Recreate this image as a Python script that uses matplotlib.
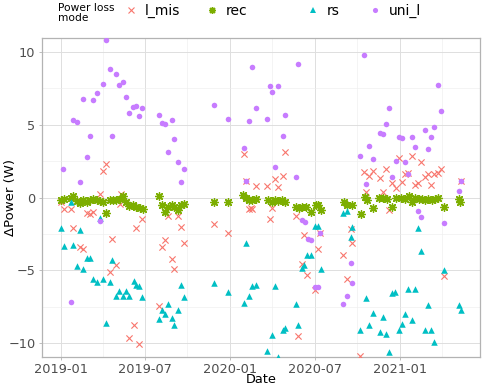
import matplotlib
matplotlib.use("Agg")
import matplotlib.pyplot as plt
import matplotlib.dates as mdates
from matplotlib.lines import Line2D
import pandas as pd

# ---- data ----
lmis_dates = ["2019-01-01", "2019-01-08", "2019-01-24", "2019-01-28", "2019-02-11", "2019-02-18",
              "2019-02-26", "2019-03-05", "2019-03-12", "2019-03-26", "2019-04-01", "2019-04-02",
              "2019-04-08", "2019-04-17", "2019-04-22", "2019-04-29", "2019-05-08", "2019-05-11",
              "2019-05-15", "2019-05-21", "2019-05-28", "2019-06-07", "2019-06-11", "2019-06-18",
              "2019-06-26", "2019-07-31", "2019-08-06", "2019-08-13", "2019-08-20", "2019-08-28",
              "2019-09-03", "2019-09-10", "2019-09-17", "2019-09-24", "2019-11-28", "2019-12-27",
              "2020-01-30", "2020-02-04", "2020-02-11", "2020-02-14", "2020-02-18", "2020-02-25",
              "2020-03-20", "2020-03-26", "2020-03-31", "2020-04-07", "2020-04-14", "2020-04-23",
              "2020-04-28", "2020-05-21", "2020-05-26", "2020-06-03", "2020-06-08", "2020-06-15",
              "2020-07-01", "2020-07-08", "2020-07-13", "2020-09-01", "2020-09-08", "2020-09-18",
              "2020-09-20", "2020-10-07", "2020-10-15", "2020-10-20", "2020-10-26", "2020-11-03",
              "2020-11-18", "2020-11-25", "2020-12-01", "2020-12-08", "2020-12-15", "2020-12-23",
              "2020-12-29", "2021-01-05", "2021-01-12", "2021-01-19", "2021-01-26", "2021-02-03",
              "2021-02-08", "2021-02-15", "2021-02-23", "2021-03-01", "2021-03-09", "2021-03-16",
              "2021-03-23", "2021-03-31", "2021-04-05", "2021-05-12"]
lmis_vals = [-0.34, -0.78, -0.78, -2.06, -3.41, -3.55,
             -1.03, -1.12, -0.98, 0.25, -0.34, 1.84,
             2.32, -5.13, -2.86, -4.63, -0.43, 0.25,
             0.07, -0.34, -9.64, -8.75, -2.10, -10.03,
             -1.46, -7.42, -3.37, -2.91, -1.30, -4.23,
             -4.92, -1.26, -1.99, -3.13, -1.85, -2.45,
             3.00, 1.15, -0.78, -0.69, -0.78, 0.82,
             0.82, -1.46, -0.69, 1.29, 0.71, 1.51,
             3.12, -1.26, -9.50, -4.53, -2.56, -5.29,
             -6.34, -3.50, -2.45, -3.94, -5.57, -2.15,
             -3.11, -10.86, 1.72, 0.41, 1.49, 1.79,
             1.35, 0.41, 1.99, -0.89, 0.99, 0.67,
             2.68, 1.08, 1.63, 1.68, 2.85, 0.87,
             0.99, 2.45, 1.44, 1.61, 0.85, 1.63,
             1.68, 1.99, -5.36, 1.13]

rec_dates = ["2019-01-01", "2019-01-08", "2019-01-24", "2019-01-28", "2019-02-04", "2019-02-11",
             "2019-02-18", "2019-02-26", "2019-03-05", "2019-03-12", "2019-03-19", "2019-03-26",
             "2019-04-02", "2019-04-09", "2019-04-17", "2019-04-23", "2019-05-01", "2019-05-08",
             "2019-05-15", "2019-05-22", "2019-05-29", "2019-06-06", "2019-06-13", "2019-06-20",
             "2019-06-27", "2019-07-31", "2019-08-08", "2019-08-13", "2019-08-20", "2019-08-28",
             "2019-09-03", "2019-09-10", "2019-09-17", "2019-09-24", "2019-11-28", "2019-12-27",
             "2020-01-28", "2020-02-04", "2020-02-11", "2020-02-18", "2020-02-25", "2020-03-23",
             "2020-03-31", "2020-04-07", "2020-04-14", "2020-04-22", "2020-04-28", "2020-05-21",
             "2020-05-28", "2020-06-04", "2020-06-13", "2020-06-24", "2020-07-03", "2020-07-08",
             "2020-07-14", "2020-09-02", "2020-09-09", "2020-09-20", "2020-10-08", "2020-10-18",
             "2020-10-22", "2020-11-03", "2020-11-16", "2020-11-25", "2020-12-04", "2020-12-15",
             "2020-12-23", "2021-01-02", "2021-01-12", "2021-01-21", "2021-01-26", "2021-02-03",
             "2021-02-10", "2021-02-17", "2021-02-24", "2021-03-03", "2021-03-10", "2021-03-17",
             "2021-03-24", "2021-04-06", "2021-05-07", "2021-05-11"]
rec_vals = [-0.20, -0.11, -0.04, 0.07, -0.27, -0.39,
            -0.20, -0.30, -0.16, -0.11, -0.16, -0.25,
            -0.32, -1.03, -0.16, -0.20, -0.16, -0.07,
            0.12, -0.30, -0.57, -0.52, -0.66, -0.75,
            -0.80, 0.07, -0.48, -0.98, -0.62, -0.48,
            -0.66, -0.85, -0.48, -0.43, -0.30, -0.30,
            0.16, -0.02, -0.20, -0.16, -0.07, -0.20,
            -0.30, -0.16, -0.25, -0.20, -0.34, -0.66,
            -0.71, -0.62, -0.66, -0.98, -0.48, -0.52,
            -0.85, -0.34, -0.52, -0.48, -1.12, 0.03,
            -0.20, -0.71, -0.02, 0.00, -0.07, -0.62,
            -0.02, 0.00, -0.07, 0.07, -0.30, -0.02,
            -0.11, -0.07, -0.16, -0.11, -0.16, -0.07,
            -0.02, -0.66, -0.11, -0.30]

rs_dates = ["2019-01-01", "2019-01-08", "2019-01-24", "2019-01-28", "2019-02-04", "2019-02-11",
            "2019-02-18", "2019-02-26", "2019-03-05", "2019-03-12", "2019-03-19", "2019-03-26",
            "2019-04-02", "2019-04-09", "2019-04-17", "2019-04-22", "2019-04-29", "2019-05-07",
            "2019-05-14", "2019-05-21", "2019-05-28", "2019-06-07", "2019-06-13", "2019-06-18",
            "2019-06-26", "2019-07-31", "2019-08-06", "2019-08-13", "2019-08-20", "2019-08-28",
            "2019-09-03", "2019-09-10", "2019-09-17", "2019-09-23", "2019-11-28", "2019-12-27",
            "2020-01-30", "2020-02-04", "2020-02-11", "2020-02-18", "2020-02-25", "2020-03-20",
            "2020-03-31", "2020-04-07", "2020-04-14", "2020-04-23", "2020-04-28", "2020-05-21",
            "2020-05-26", "2020-06-03", "2020-06-08", "2020-06-15", "2020-06-24", "2020-07-01",
            "2020-07-08", "2020-07-14", "2020-09-01", "2020-09-08", "2020-09-18", "2020-09-20",
            "2020-10-07", "2020-10-20", "2020-10-27", "2020-11-03", "2020-11-18", "2020-11-25",
            "2020-12-01", "2020-12-08", "2020-12-15", "2020-12-22", "2020-12-29", "2021-01-05",
            "2021-01-12", "2021-01-19", "2021-01-26", "2021-02-03", "2021-02-08", "2021-02-15",
            "2021-02-23", "2021-03-01", "2021-03-09", "2021-03-16", "2021-04-05", "2021-05-08",
            "2021-05-12"]
rs_vals = [-2.06, -3.32, -0.34, -3.23, -4.72, -2.22,
           -4.88, -4.14, -4.14, -5.57, -5.79, -1.40,
           -5.57, -8.59, -5.77, -4.26, -6.76, -6.43,
           -6.76, -6.43, -6.76, -5.73, -5.98, -6.05,
           -6.80, -8.31, -7.72, -7.99, -7.33, -8.27,
           -8.73, -7.74, -5.98, -6.80, -5.86, -6.48,
           -7.22, -3.11, -6.74, -6.05, -5.98, -10.52,
           -9.44, -6.05, -10.93, -9.09, -8.98, -7.33,
           -8.75, -4.85, -4.63, -3.96, -3.96, -1.95,
           -1.95, -4.92, -1.07, -0.94, -2.68, -1.99,
           -9.11, -6.92, -8.77, -7.92, -9.25, -8.22,
           -9.37, -10.58, -6.55, -6.46, -9.07, -8.68,
           -8.02, -6.25, -8.38, -6.30, -2.10, -3.68,
           -9.11, -7.40, -9.11, -9.92, -4.97, -7.37,
           -7.70]

unil_dates = ["2019-01-06", "2019-01-24", "2019-01-28", "2019-02-04", "2019-02-11", "2019-02-18",
              "2019-02-26", "2019-03-05", "2019-03-12", "2019-03-19", "2019-03-26", "2019-04-02",
              "2019-04-08", "2019-04-17", "2019-04-22", "2019-04-29", "2019-05-07", "2019-05-14",
              "2019-05-21", "2019-05-28", "2019-06-06", "2019-06-11", "2019-06-18", "2019-06-26",
              "2019-07-31", "2019-08-06", "2019-08-13", "2019-08-20", "2019-08-28", "2019-09-03",
              "2019-09-10", "2019-09-17", "2019-09-23", "2019-11-28", "2019-12-27", "2020-01-30",
              "2020-02-04", "2020-02-11", "2020-02-18", "2020-02-25", "2020-03-20", "2020-03-26",
              "2020-03-31", "2020-04-07", "2020-04-14", "2020-04-23", "2020-04-28", "2020-05-21",
              "2020-05-26", "2020-06-04", "2020-06-10", "2020-06-17", "2020-06-24", "2020-07-01",
              "2020-07-08", "2020-07-13", "2020-09-01", "2020-09-08", "2020-09-18", "2020-09-20",
              "2020-10-06", "2020-10-15", "2020-10-20", "2020-10-27", "2020-11-03", "2020-11-18",
              "2020-11-25", "2020-12-02", "2020-12-08", "2020-12-15", "2020-12-23", "2020-12-29",
              "2021-01-05", "2021-01-12", "2021-01-19", "2021-01-26", "2021-02-03", "2021-02-08",
              "2021-02-15", "2021-02-23", "2021-03-01", "2021-03-09", "2021-03-16", "2021-03-23",
              "2021-03-31", "2021-04-05", "2021-05-08", "2021-05-12"]
unil_vals = [1.95, -7.19, 5.34, 5.20, 1.08, 6.78,
             2.75, 4.24, 6.67, 7.15, -1.60, 7.79,
             10.84, 8.80, 4.24, 8.50, 7.72, 7.95,
             6.90, 5.80, 6.19, 6.25, 5.61, 6.12,
             5.64, 5.11, 5.07, 3.14, 5.32, 4.01,
             2.45, 1.06, 1.95, 6.35, 5.36, 3.37,
             1.15, 5.25, 8.96, 6.12, 5.36, 7.63,
             7.24, 2.11, 7.68, 4.19, 5.64, 1.40,
             9.14, -1.53, -1.69, -2.84, -2.91, -6.14,
             -6.14, -2.45, -7.28, -6.76, -4.51, -5.88,
             2.85, 9.76, 0.92, 3.51, 2.66, 4.45,
             4.33, 5.04, 6.14, 1.42, 2.50, 4.17,
             4.10, 2.41, 1.63, 4.17, 3.46, -0.93,
             -1.35, 4.65, 3.33, 4.17, 4.86, 7.70,
             5.91, -1.76, 0.48, 1.13]

x_ticks = ["2019-01-01", "2019-07-01", "2020-01-01", "2020-07-01", "2021-01-01"]
x_minor = ["2019-04-01", "2019-10-01", "2020-04-01", "2020-10-01", "2021-04-01"]
y_ticks = [-10, -5, 0, 5, 10]

# ggplot default hue colours
c_lmis = "#F8766D"
c_rec = "#7CAE00"
c_rs = "#00BFC4"
c_unil = "#C77CFF"

fig = plt.figure(figsize=(4.84, 3.87), dpi=100)
ax = fig.add_axes([0.0862, 0.078, 0.9055, 0.824])

ax.scatter(pd.to_datetime(lmis_dates), lmis_vals, marker="x", s=20, c=c_lmis, linewidths=0.8, zorder=3)
ax.scatter(pd.to_datetime(rec_dates), rec_vals, marker=(8, 2, 0), s=30, c=c_rec, linewidths=1.0, zorder=3)
ax.scatter(pd.to_datetime(rs_dates), rs_vals, marker="^", s=22, c=c_rs, linewidths=0, zorder=3)
ax.scatter(pd.to_datetime(unil_dates), unil_vals, marker="o", s=16, c=c_unil, linewidths=0, zorder=3)

ax.set_xlim(pd.Timestamp("2018-11-21"), pd.Timestamp("2021-06-22"))
ax.set_ylim(-10.93, 10.95)

ax.set_xticks(pd.to_datetime(x_ticks))
ax.set_xticks(pd.to_datetime(x_minor), minor=True)
ax.xaxis.set_major_formatter(mdates.DateFormatter("%Y-%m"))
ax.set_yticks(y_ticks)
ax.set_yticks([-7.5, -2.5, 2.5, 7.5], minor=True)

ax.grid(True, which="major", color="#DEDEDE", linewidth=0.7)
ax.grid(True, which="minor", color="#EDEDED", linewidth=0.4)
ax.set_axisbelow(True)
for sp in ax.spines.values():
    sp.set_color("#B3B3B3")
    sp.set_linewidth(0.9)
ax.tick_params(which="major", length=2.5, width=0.6, color="#B3B3B3", labelsize=9.3,
               labelcolor="#4D4D4D", pad=2)
ax.tick_params(which="minor", length=0)

ax.set_xlabel("Date", fontsize=9.3)
ax.set_ylabel("ΔPower (W)", fontsize=9.5)
ax.xaxis.set_label_coords(0.5, -0.052)
ax.yaxis.set_label_coords(-0.057, 0.5)

# legend across the top, like ggplot's
fig.text(0.12, 0.993, "Power loss\nmode", fontsize=7.7, va="top", ha="left", linespacing=1.0)
entries = [
    (Line2D([], [], ls="", marker="x", ms=4, mew=0.8, color=c_lmis), "l_mis", 131),
    (Line2D([], [], ls="", marker=(8, 2, 0), ms=5, mew=1.0, color=c_rec), "rec", 212),
    (Line2D([], [], ls="", marker="^", ms=4.5, mew=0, color=c_rs), "rs", 313),
    (Line2D([], [], ls="", marker="o", ms=3.7, mew=0, color=c_unil), "uni_l", 375),
]
for h, lab, px in entries:
    fig.legend(handles=[h], labels=[lab], loc="center left",
               bbox_to_anchor=((px - 7) / 484, 0.972), frameon=False, fontsize=10,
               handlelength=1.0, handletextpad=0.5, borderpad=0, borderaxespad=0)

fig.savefig("out.png", dpi=100)
